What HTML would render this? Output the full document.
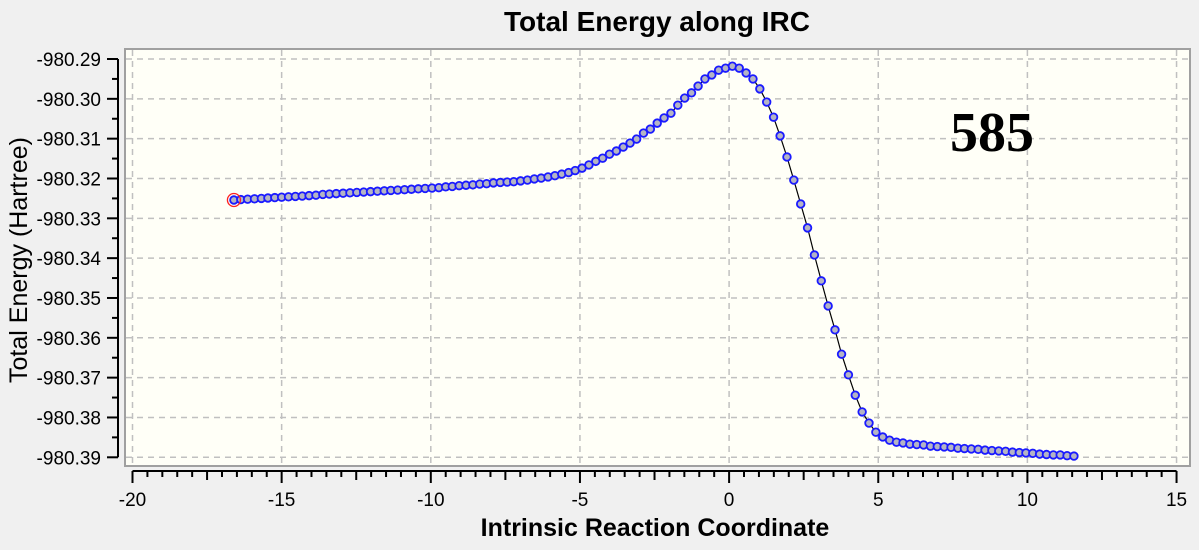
<!DOCTYPE html>
<html><head><meta charset="utf-8"><style>
body{margin:0;background:#f0f0f0;}
svg{display:block;font-family:"Liberation Sans",Arial,sans-serif;}
</style></head><body>
<svg width="1199" height="550" viewBox="0 0 1199 550">
<rect x="0" y="0" width="1199" height="550" fill="#f0f0f0"/>
<text x="657" y="31" text-anchor="middle" font-size="28" font-weight="bold" fill="#000">Total Energy along IRC</text>
<rect x="125" y="49" width="1065" height="417" fill="#fffff7" stroke="#a0a0a0" stroke-width="2"/>
<g id="grid"></g>
<g id="yaxis"></g>
<g id="xaxis"></g>
<g id="series"></g>
<text transform="translate(27,260) rotate(-90)" text-anchor="middle" font-size="25" fill="#000">Total Energy (Hartree)</text>
<text x="655" y="536" text-anchor="middle" font-size="25" font-weight="bold" fill="#000">Intrinsic Reaction Coordinate</text>
<text x="992" y="151" text-anchor="middle" font-size="56" font-weight="bold" font-family="Liberation Serif,serif" fill="#000">585</text>
</svg>
<script>
const xTicks=[-20,-15,-10,-5,0,5,10,15];
const yTicks=[-980.29,-980.30,-980.31,-980.32,-980.33,-980.34,-980.35,-980.36,-980.37,-980.38,-980.39];
const ircX=[-16.60,-16.37,-16.14,-15.91,-15.68,-15.46,-15.23,-15.00,-14.77,-14.54,-14.31,-14.08,-13.85,-13.62,-13.40,-13.17,-12.94,-12.71,-12.48,-12.25,-12.02,-11.79,-11.56,-11.34,-11.11,-10.88,-10.65,-10.42,-10.19,-9.96,-9.73,-9.50,-9.28,-9.05,-8.82,-8.59,-8.36,-8.13,-7.90,-7.67,-7.44,-7.22,-6.99,-6.76,-6.53,-6.30,-6.07,-5.84,-5.61,-5.38,-5.16,-4.93,-4.70,-4.47,-4.24,-4.01,-3.78,-3.55,-3.32,-3.10,-2.87,-2.64,-2.41,-2.18,-1.95,-1.72,-1.49,-1.26,-1.04,-0.81,-0.58,-0.35,-0.12,0.11,0.34,0.57,0.80,1.03,1.26,1.49,1.71,1.94,2.17,2.40,2.63,2.86,3.09,3.32,3.55,3.77,4.00,4.23,4.46,4.69,4.92,5.15,5.38,5.61,5.83,6.06,6.29,6.52,6.75,6.98,7.21,7.44,7.67,7.89,8.12,8.35,8.58,8.81,9.04,9.27,9.50,9.73,9.95,10.18,10.41,10.64,10.87,11.10,11.33,11.56];
const energy=[-980.3254,-980.3253,-980.3252,-980.3251,-980.3250,-980.3249,-980.3248,-980.3247,-980.3246,-980.3245,-980.3244,-980.3243,-980.3242,-980.3240,-980.3239,-980.3238,-980.3237,-980.3236,-980.3235,-980.3234,-980.3233,-980.3232,-980.3231,-980.3230,-980.3229,-980.3228,-980.3227,-980.3226,-980.3225,-980.3224,
-980.3223,-980.3221,-980.3220,-980.3218,-980.3217,-980.3216,-980.3214,-980.3213,-980.3211,-980.3210,-980.3209,
-980.3208,-980.3206,-980.3204,-980.3201,-980.3199,-980.3196,-980.3193,-980.3189,-980.3185,-980.3180,-980.3174,
-980.3166,-980.3157,-980.3149,-980.3139,-980.3131,-980.3121,-980.3111,-980.3101,-980.3086,-980.3076,-980.3061,-980.3048,-980.3036,-980.3016,-980.2998,-980.2985,-980.2968,-980.2950,-980.2940,-980.2928,-980.2923,-980.2918,-980.2923,-980.2935,-980.2950,-980.2975,-980.3008,-980.3046,-980.3093,-980.3146,-980.3204,-980.3264,-980.3324,-980.3392,-980.3457,-980.3520,-980.3580,-980.3641,-980.3693,-980.3744,-980.3786,-980.3814,-980.3837,-980.3849,-980.3857,-980.3862,
-980.3864,-980.3867,-980.3868,-980.3869,-980.3872,-980.3873,-980.3874,-980.3875,-980.3877,-980.3878,-980.3879,-980.3880,-980.3882,-980.3883,-980.3884,-980.3885,-980.3887,-980.3888,-980.3889,-980.3890,-980.3892,-980.3893,-980.3894,-980.3894,-980.3896,-980.3897];
const NS='http://www.w3.org/2000/svg';
const sx=v=>132.5+(v+20)*29.83;
const sy=v=>59+(-980.29-v)/0.01*39.83;
function mk(tag,attrs,parent){const e=document.createElementNS(NS,tag);for(const k in attrs)e.setAttribute(k,attrs[k]);parent.appendChild(e);return e;}
const grid=document.getElementById('grid'),ya=document.getElementById('yaxis'),xa=document.getElementById('xaxis'),ser=document.getElementById('series');
xTicks.forEach(t=>{const x=sx(t);
 if(x>126&&x<1189){const g=mk('line',{x1:x,x2:x,y1:50,y2:465,stroke:'#c0c0c0','stroke-dasharray':'6,5','stroke-width':1.5},grid);
 
 }
 const l=mk('text',{x:x,y:506,'text-anchor':'middle','font-size':19,fill:'#000'},xa);l.textContent=t;
 
 });
yTicks.forEach(t=>{const y=sy(t);
 const g=mk('line',{x1:126,x2:1189,y1:y,y2:y,stroke:'#c0c0c0','stroke-dasharray':'6,5','stroke-width':1.5},grid);
 
 
 const l=mk('text',{x:101,y:y+7,'text-anchor':'end','font-size':19,fill:'#000'},ya);l.textContent=t.toFixed(2);
 
 });
mk('line',{x1:118,x2:118,y1:sy(-980.29),y2:sy(-980.39),stroke:'#000','stroke-width':2},ya);
for(let i=0;i<=20;i++){const v=-980.29-i*0.005;const y=sy(v);mk('line',{x1:i%2?112:107,x2:118,y1:y,y2:y,stroke:'#000','stroke-width':2},ya);}
mk('line',{x1:sx(-20),x2:sx(15),y1:471,y2:471,stroke:'#000','stroke-width':2},xa);
for(let i=0;i<=70;i++){const v=-20+i*0.5;const x=sx(v);const len=i%10===0?12:(i%5===0?9:6);mk('line',{x1:x,x2:x,y1:471,y2:471+len,stroke:'#000','stroke-width':2},xa);}
const pts=ircX.map((x,i)=>sx(x).toFixed(1)+','+sy(energy[i]).toFixed(1)).join(' ');
const pl=mk('polyline',{points:pts,fill:'none',stroke:'#000','stroke-width':1.2},ser);


ircX.forEach((x,i)=>{const c=mk('circle',{cx:sx(x),cy:sy(energy[i]),r:3.8,fill:'#b4b4c4',stroke:'#1a1aff','stroke-width':1.8},ser);
 
 });
const cur=mk('circle',{cx:sx(ircX[0]),cy:sy(energy[0]),r:6.5,fill:'none',stroke:'#ff2020','stroke-width':1.3},ser);


</script>
</body></html>
